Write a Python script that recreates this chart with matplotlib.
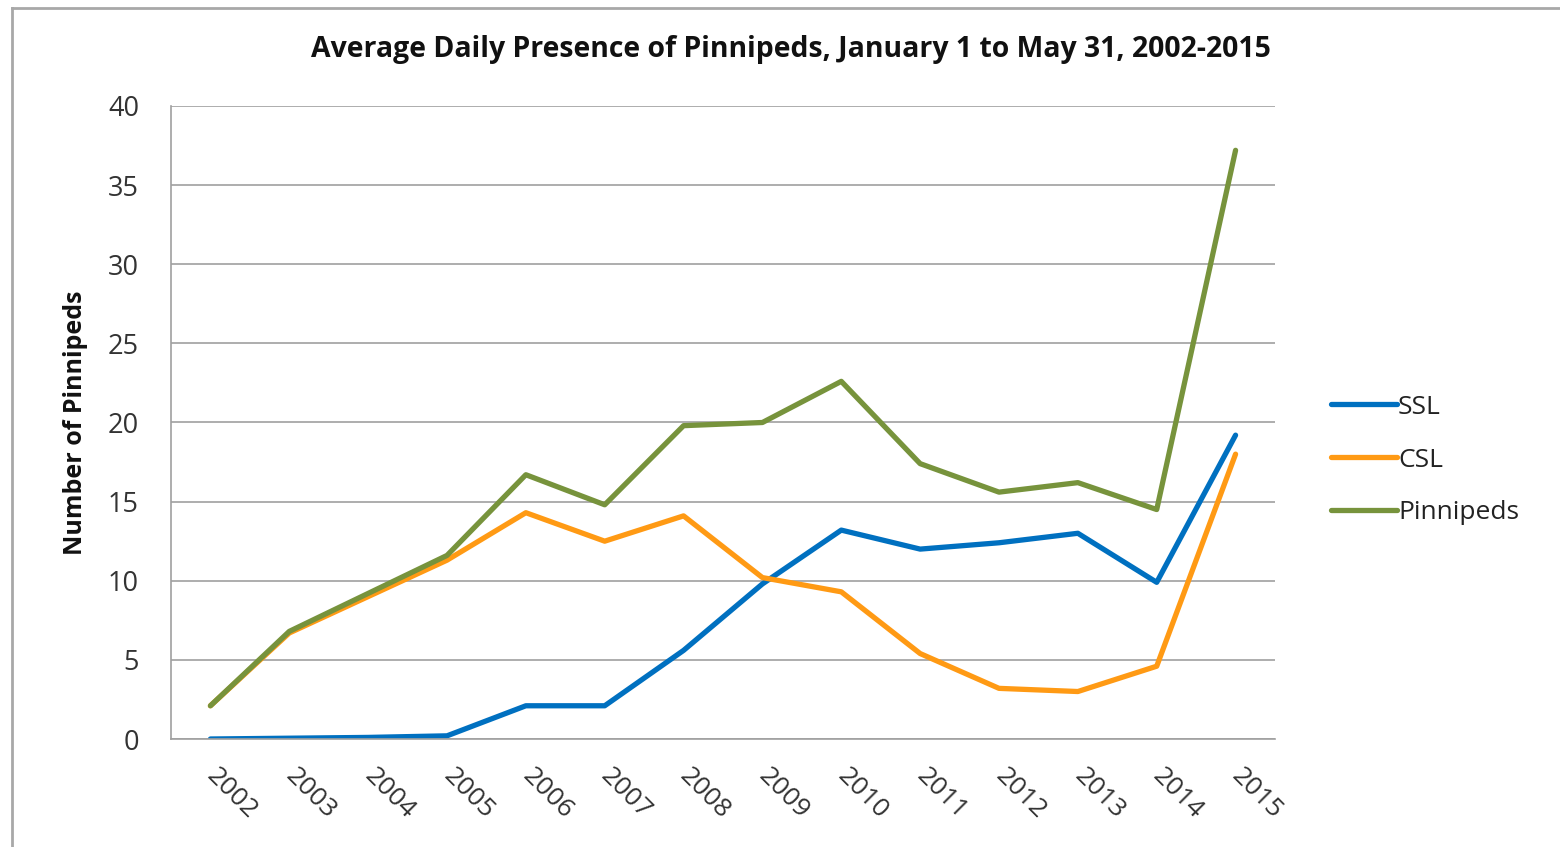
import matplotlib
matplotlib.use("Agg")
import matplotlib.pyplot as plt
from matplotlib.lines import Line2D

years = ["2002", "2003", "2004", "2005", "2006", "2007", "2008",
         "2009", "2010", "2011", "2012", "2013", "2014", "2015"]
ssl = [0.0, 0.05, 0.1, 0.2, 2.1, 2.1, 5.6, 9.8, 13.2, 12.0, 12.4, 13.0, 9.9, 19.2]
csl = [2.1, 6.7, 9.0, 11.3, 14.3, 12.5, 14.1, 10.2, 9.3, 5.4, 3.2, 3.0, 4.6, 18.0]
pinnipeds = [2.1, 6.8, 9.2, 11.6, 16.7, 14.8, 19.8, 20.0, 22.6, 17.4, 15.6, 16.2, 14.5, 37.2]
yticks = [0, 5, 10, 15, 20, 25, 30, 35, 40]

plt.rcParams['font.family'] = ['Open Sans', 'DejaVu Sans']

W, H = 1560, 847
fig = plt.figure(figsize=(W / 100, H / 100), dpi=100)
ax = fig.add_axes([171 / W, 1 - 739 / H, (1275 - 171) / W, (739 - 106) / H])

x = list(range(len(years)))
kw = dict(lw=3.8, solid_joinstyle='round', solid_capstyle='round')
ax.plot(x, ssl, color='#0070C0', label='SSL', **kw)
ax.plot(x, csl, color='#FF9A14', label='CSL', **kw)
ax.plot(x, pinnipeds, color='#77933C', label='Pinnipeds', **kw)

ax.set_xlim(-0.5, len(years) - 0.5)
ax.set_ylim(0, 40)
ax.set_yticks(yticks)
ax.set_yticklabels([str(v) for v in yticks], fontsize=19.5, color='#333333')
ax.set_xticks(x)
ax.set_xticklabels(years, fontsize=19, color='#333333', rotation=-45,
                   ha='left', va='center', rotation_mode='anchor')
ax.tick_params(axis='both', length=0)
ax.tick_params(axis='x', pad=24)
ax.tick_params(axis='y', pad=23)

ax.grid(axis='y', color='#A0A0A0', lw=1.2)
ax.set_axisbelow(True)
for s in ['top', 'right']:
    ax.spines[s].set_visible(False)
for s in ['left', 'bottom']:
    ax.spines[s].set_color('#A0A0A0')
    ax.spines[s].set_linewidth(1.2)

ax.set_ylabel('Number of Pinnipeds', fontsize=18, fontweight='bold', color='#111111')
ax.yaxis.set_label_coords(-(171 - 88) / 1104, 0.5)

fig.text(791 / W, 1 - 50 / H, 'Average Daily Presence of Pinnipeds, January 1 to May 31, 2002-2015',
         ha='center', va='center', fontsize=20.4, fontweight='bold', color='#111111')

leg = fig.legend(loc='center left', bbox_to_anchor=(1307 / W, 1 - 460 / H), frameon=False,
                 fontsize=19, handlelength=2.5, handletextpad=0.05, labelspacing=1.06)
for t in leg.get_texts():
    t.set_color('#222222')

# outer frame
fig.add_artist(Line2D([12 / W, 1.0], [1 - 8 / H, 1 - 8 / H], color='#A8A8A8', lw=2, transform=fig.transFigure))
fig.add_artist(Line2D([12 / W, 12 / W], [0, 1 - 8 / H], color='#A8A8A8', lw=2, transform=fig.transFigure))

fig.savefig('out.png', dpi=100)
